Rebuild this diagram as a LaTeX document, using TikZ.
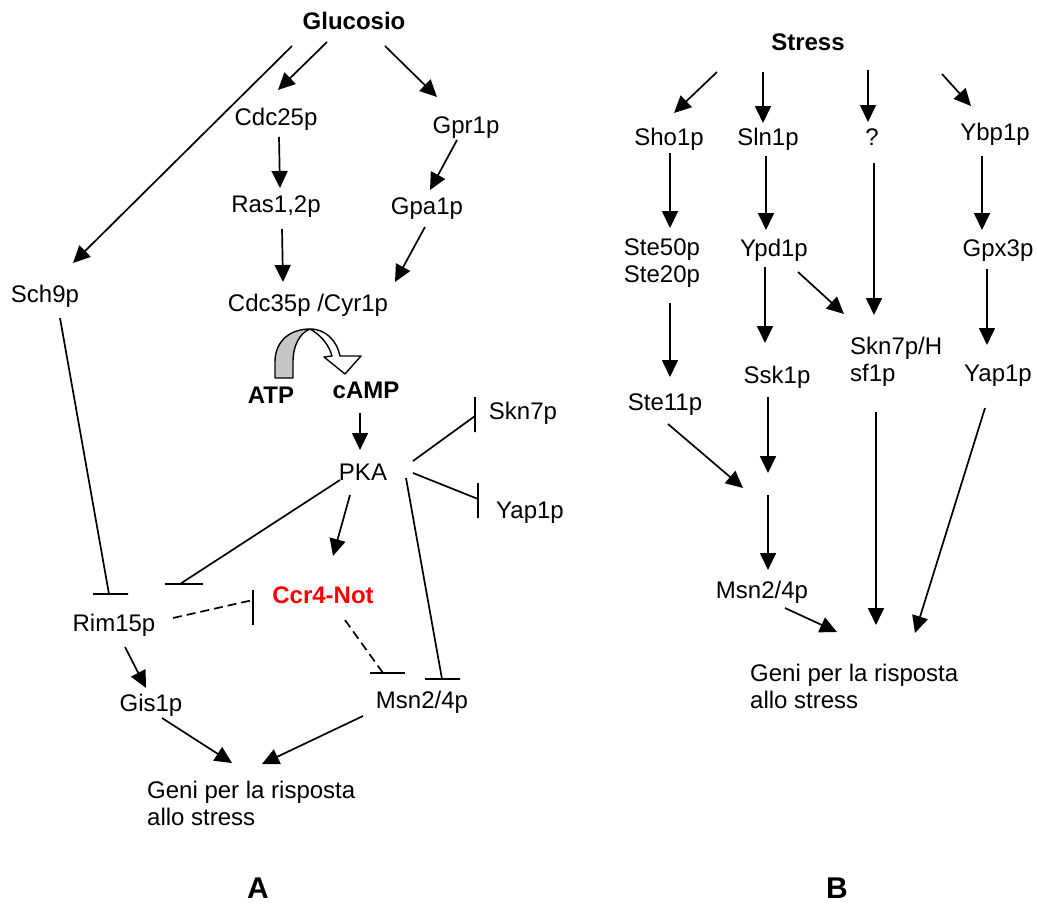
\documentclass[tikz,border=0pt]{standalone}
\usepackage{fontspec}
\setmainfont{Liberation Sans}
\usetikzlibrary{arrows.meta}
\begin{document}
\begin{tikzpicture}[x=1pt,y=-1pt,
  lbl/.style={font=\fontsize{24}{27}\selectfont, inner sep=0pt, text height=17.2pt, text depth=0pt},
  blbl/.style={lbl, font=\fontsize{24}{27}\selectfont\bfseries},
  mlbl/.style={font=\fontsize{24}{27}\selectfont, inner sep=0pt},
  panel/.style={font=\fontsize{30}{34}\selectfont\bfseries, inner sep=0pt, text height=21.5pt, text depth=0pt},
  arr/.style={line width=1.7pt, -{Triangle[length=17pt,width=16pt]}},
  inh/.style={line width=1.7pt},
  dsh/.style={line width=1.7pt, dash pattern=on 9pt off 5pt}]
\useasboundingbox (0,0) rectangle (1037,905);
% ---------- Panel A nodes ----------
\node[blbl] (gluc) at (354,21) {Glucosio};
\node[lbl] (cdc25) at (276,117) {Cdc25p};
\node[lbl] (gpr1) at (466,125) {Gpr1p};
\node[lbl] (ras) at (276,204) {Ras1,2p};
\node[lbl] (gpa1) at (427,206) {Gpa1p};
\node[lbl] (sch9) at (45,294) {Sch9p};
\node[lbl] (cdc35) at (308,303) {Cdc35p /Cyr1p};
\node[blbl] (atp) at (271,395) {ATP};
\node[blbl] (camp) at (366,390) {cAMP};
\node[lbl] (pka) at (363,472) {PKA};
\node[lbl] (skn7a) at (523,411) {Skn7p};
\node[lbl] (yap1a) at (530,510) {Yap1p};
\node[blbl, text=red] (ccr4) at (323,595) {Ccr4-Not};
\node[lbl] (rim15) at (114,623) {Rim15p};
\node[lbl] (gis1) at (151,703) {Gis1p};
\node[lbl] (msna) at (422,700) {Msn2/4p};
\node[mlbl, align=left, anchor=north west] (genia) at (147,781) {Geni per la risposta\\allo stress};
\node[panel] (labA) at (258,888) {A};
% ---------- Panel B nodes ----------
\node[blbl] (stress) at (808,42) {Stress};
\node[lbl] (sho1) at (669,137) {Sho1p};
\node[lbl] (sln1) at (768,137) {Sln1p};
\node[lbl] (qm) at (872,137) {?};
\node[lbl] (ybp1) at (995,132) {Ybp1p};
\node[mlbl, align=center, anchor=north] (ste50) at (662,239) {Ste50p\\Ste20p};
\node[lbl] (ypd1) at (774,248) {Ypd1p};
\node[lbl] (gpx3) at (998,248) {Gpx3p};
\node[lbl] (ssk1) at (777,375) {Ssk1p};
\node[mlbl, align=left, anchor=north west] (skn7b) at (850,337) {Skn7p/H\\sf1p};
\node[lbl] (yap1b) at (998,373) {Yap1p};
\node[lbl] (ste11) at (665,402) {Ste11p};
\coordinate (junc) at (768,484);
\node[lbl] (msnb) at (762,590) {Msn2/4p};
\node[mlbl, align=left, anchor=north west] (genib) at (750,664) {Geni per la risposta\\allo stress};
\node[panel] (labB) at (837,888) {B};
% ---------- curved arrow ATP -> cAMP ----------
\filldraw[line width=1.4pt, fill=gray!45, line join=round] (275,378) -- (275,362) .. controls (275,341) and (290,329) .. (310,329)
  .. controls (300,333) and (293,345) .. (293,362) -- (293,378) -- cycle;
\filldraw[line width=1.4pt, fill=white, line join=round] (310,329) .. controls (326,329) and (337,341) .. (340,356)
  -- (361,356) -- (345,374) -- (324,357) -- (332,356) .. controls (329,345) and (321,335) .. (310,329) -- cycle;
% ---------- Panel A connectors ----------
\draw[arr] ([shift={(-27,21)}]gluc.center) -- ([shift={(2,-27)}]cdc25.center);
\draw[arr] ([shift={(31,25)}]gluc.center) -- ([shift={(-29,-28)}]gpr1.center);
\draw[arr] ([shift={(-62,25)}]gluc.center) -- ([shift={(28,-31)}]sch9.center);
\draw[arr] ([shift={(3,20)}]cdc25.center) -- ([shift={(4,-16)}]ras.center);
\draw[arr] ([shift={(6,25)}]ras.center) -- ([shift={(-25,-21)}]cdc35.center);
\draw[arr] ([shift={(-9,15)}]gpr1.center) -- ([shift={(3,-16)}]gpa1.center);
\draw[arr] ([shift={(-2,21)}]gpa1.center) -- ([shift={(87,-21)}]cdc35.center);
\draw[arr] ([shift={(-6,23)}]camp.center) -- ([shift={(-3,-22)}]pka.center);
\draw[inh] ([shift={(50,-11)}]pka.center) -- ([shift={(-48,5)}]skn7a.center) ++(0,-19) -- ++(0,35);
\draw[inh] ([shift={(50,1)}]pka.center) -- ([shift={(-52,-11)}]yap1a.center) ++(0,-16) -- ++(0,35);
\draw[inh] ([shift={(43,6)}]pka.center) -- ([shift={(20,-21)}]msna.center) ++(-17,0) -- ++(35,0);
\draw[arr] ([shift={(-13,23)}]pka.center) -- ([shift={(10,-39)}]ccr4.center);
\draw[inh] ([shift={(-23,8)}]pka.center) -- ([shift={(66,-39)}]rim15.center) ++(-15,0) -- ++(38,0);
\draw[inh] ([shift={(15,24)}]sch9.center) -- ([shift={(-5,-29)}]rim15.center) ++(-16,0) -- ++(35,0);
\draw[dsh] ([shift={(59,-5)}]rim15.center) -- ([shift={(-70,5)}]ccr4.center);
\draw[inh] ([shift={(-70,-5)}]ccr4.center) -- ++(0,35);
\draw[dsh] ([shift={(22,25)}]ccr4.center) -- ([shift={(-39,-27)}]msna.center);
\draw[inh] ([shift={(-52,-27)}]msna.center) -- ++(35,0);
\draw[arr] ([shift={(11,24)}]rim15.center) -- ([shift={(-5,-15)}]gis1.center);
\draw[arr] ([shift={(11,15)}]gis1.center) -- ([shift={(85,-18)}]genia.north west);
\draw[arr] ([shift={(-59,16)}]msna.center) -- ([shift={(115,-17)}]genia.north west);
% ---------- Panel B connectors ----------
\draw[arr] ([shift={(-91,30)}]stress.center) -- ([shift={(5,-24)}]sho1.center);
\draw[arr] ([shift={(-45,30)}]stress.center) -- ([shift={(-5,-14)}]sln1.center);
\draw[arr] ([shift={(60,28)}]stress.center) -- ([shift={(-4,-15)}]qm.center);
\draw[arr] ([shift={(134,32)}]stress.center) -- ([shift={(-24,-26)}]ybp1.center);
\draw[arr] ([shift={(1,16)}]sho1.center) -- ([shift={(8,-11)}]ste50.north);
\draw[arr] ([shift={(-2,19)}]sln1.center) -- ([shift={(-8,-18)}]ypd1.center);
\draw[arr] ([shift={(2,26)}]qm.center) -- ([shift={(24,-22)}]skn7b.north west);
\draw[arr] ([shift={(-13,24)}]ybp1.center) -- ([shift={(-16,-18)}]gpx3.center);
\draw[arr] ([shift={(8,64)}]ste50.north) -- ([shift={(5,-25)}]ste11.center);
\draw[arr] ([shift={(-9,19)}]ypd1.center) -- ([shift={(-12,-32)}]ssk1.center);
\draw[arr] ([shift={(24,24)}]ypd1.center) -- ([shift={(-6,-23)}]skn7b.north west);
\draw[arr] ([shift={(-11,21)}]gpx3.center) -- ([shift={(-11,-28)}]yap1b.center);
\draw[arr] ([shift={(3,22)}]ste11.center) -- ([shift={(-25,4)}]junc);
\draw[arr] ([shift={(-9,22)}]ssk1.center) -- ([shift={(0,-11)}]junc);
\draw[arr] ([shift={(0,11)}]junc) -- ([shift={(6,-20)}]msnb.center);
\draw[arr] ([shift={(23,18)}]msnb.center) -- ([shift={(87,-32)}]genib.north west);
\draw[arr] ([shift={(26,75)}]skn7b.north west) -- ([shift={(126,-39)}]genib.north west);
\draw[arr] ([shift={(-13,35)}]yap1b.center) -- ([shift={(165,-31)}]genib.north west);
\end{tikzpicture}
\end{document}
